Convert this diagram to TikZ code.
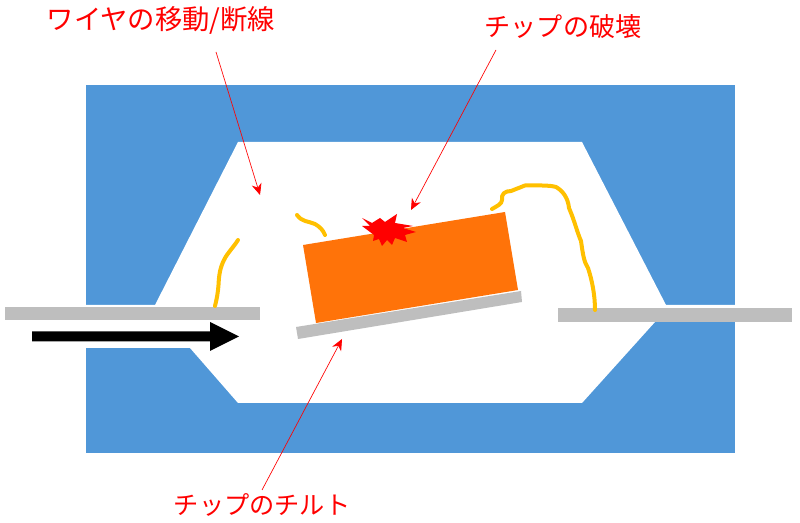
\documentclass[tikz,border=0pt]{standalone}
\usepackage{fontspec}
\setmainfont{Noto Sans CJK JP}
\usetikzlibrary{arrows.meta}
\definecolor{bodyblue}{HTML}{5097D8}
\definecolor{leadgray}{HTML}{BEBEBE}
\definecolor{wireyellow}{HTML}{FFC000}
\definecolor{chiporange}{HTML}{FF7309}
\tikzset{
  wire/.style={draw=wireyellow,line width=3pt,line cap=round,line join=round},
  label/.style={text=red,inner sep=0pt,anchor=center},
  pointer/.style={draw=red,line width=0.5pt,-{Stealth[length=8.5pt,width=7.5pt]}}
}
\begin{document}
\begin{tikzpicture}[x=0.75pt,y=-0.75pt]
\useasboundingbox (0,0) rectangle (800,523);
\fill[white] (0,0) rectangle (800,523);
% package body
\fill[bodyblue] (86,85) rectangle (735,453);
\fill[white] (238,142) -- (582,142) -- (666,305) -- (735,305) -- (735,322) -- (655,322) -- (582,403) -- (238,403) -- (190,348) -- (86,348) -- (86,305) -- (155,305) -- cycle;
% leads
\fill[leadgray] (5,307.5) rectangle (260,320.5);
\fill[leadgray] (558,308) rectangle (792,322);
% die pad and chip
\fill[leadgray] (296,327) -- (521,291) -- (522,302) -- (298,339) -- cycle;
\fill[chiporange] (303,245) -- (505,212) -- (518,290) -- (316,323) -- cycle;
% wires
\draw[wire] (215,306) .. controls (217,298) and (218,292) .. (218.5,285) .. controls (219,275) and (220,268) .. (224,260) .. controls (228,252) and (233,248) .. (238,240);
\draw[wire] (297,215) .. controls (302,222) and (308,221) .. (315,224) .. controls (320,227) and (323,230) .. (325,235);
\draw[wire] (492,209) .. controls (497,206) and (502,204) .. (502,200) .. controls (501,194) and (505,191) .. (511,191) -- (525,185.5) .. controls (535,185.5) and (550,185) .. (556,187) .. controls (563,191) and (568,198) .. (569,208) .. controls (575,222) and (577,232) .. (581,241) .. controls (583,255) and (584,262) .. (588,268) .. controls (592,280) and (595,295) .. (595,310);
% burst
\fill[red] (362,218) -- (372,223) -- (380,218) -- (385,222) -- (397,214) -- (395,223) -- (413,226) -- (403,228) -- (416,232) -- (405,235) -- (407,242) -- (395,238) -- (392,245) -- (387,240) -- (382,246) -- (379,239) -- (373,241) -- (374,235) -- (362,226) -- (370,226) -- cycle;
% arrow
\fill[black] (32,331.5) -- (210,331.5) -- (210,322) -- (239,336.5) -- (210,351) -- (210,341.5) -- (32,341.5) -- cycle;
% labels
\node[label,font=\fontsize{20.5pt}{24pt}\selectfont] (t1) at (161,20) {ワイヤの移動/断線};
\node[label,font=\fontsize{19.6pt}{24pt}\selectfont] (t2) at (563,27) {チップの破壊};
\node[label,font=\fontsize{18.9pt}{24pt}\selectfont] (t3) at (262,505) {チップのチルト};
\coordinate (a1) at (216,52);
\coordinate (b1) at (260,195);
\coordinate (a2) at (496,50);
\coordinate (b2) at (411,210);
\coordinate (a3) at (262,490);
\coordinate (b3) at (342,339);
\draw[pointer] (a1) -- (b1);
\draw[pointer] (a2) -- (b2);
\draw[pointer] (a3) -- (b3);
\end{tikzpicture}
\end{document}
